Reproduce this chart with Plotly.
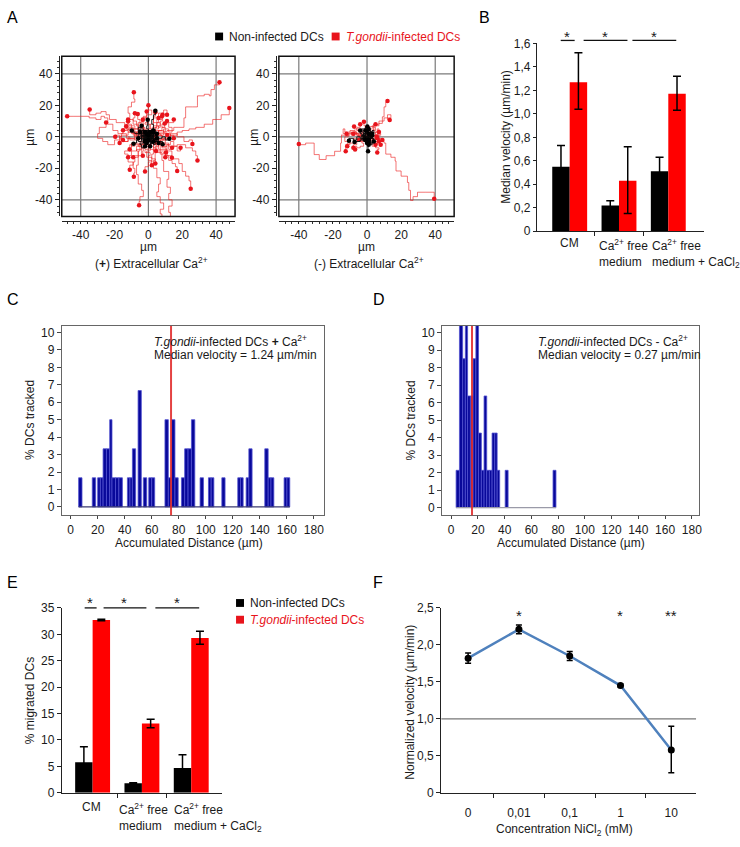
import plotly.graph_objects as go

W, H = 740, 847
FONT = "Liberation Sans, Arial, Helvetica, sans-serif"
TXT = "#1a1a1a"


def fx(p):
    return p / W


def fy(p):
    return 1 - p / H


# ---------------- DATA ----------------
# Panel A: cell tracks (µm), (+) extracellular Ca2+
A_left_red_tracks = [
    [(0, 0), (2, 1), (6, 3), (11, 4), (15, 6), (18, 6), (21, 7.5), (21, 12), (22, 19), (26, 19), (29, 20), (29, 24), (29, 26), (33, 27), (36, 26), (37, 30), (39, 33), (42, 34.6)],
    [(1, -1), (5, 1), (9, 2), (13, 1), (17, 3), (20, 4), (24, 5), (28, 6), (33, 8), (38, 11), (43, 14), (47.8, 18.3)],
    [(0, 1), (-3, 4), (-6, 8), (-9, 11), (-11, 15), (-12, 19), (-10, 22), (-8, 24), (-8.6, 28.3)],
    [(-1, 0), (-4, 3), (-8, 5), (-12, 4), (-15, 2), (-18, 4), (-21, 8), (-24, 12), (-26, 13), (-28, 11), (-31, 12), (-35, 13), (-40, 13), (-44, 13), (-48, 13)],
    [(0, 0), (-5, 2), (-9, 6), (-14, 9), (-19, 11), (-23, 14), (-25, 16), (-28, 15), (-31, 14), (-34.7, 17.3)],
    [(0, 0), (-4, -2), (-8, -1), (-12, -3), (-15, -1), (-17, 1), (-19.6, 0)],
    [(-2, 1), (-7, 3), (-12, 1), (-16, -2), (-20, -5), (-24, -3), (-27, -1), (-30, 2), (-29, 6), (-25, 9)],
    [(1, 0), (5, -2), (9, -1), (13, 2), (17, 0), (21, -3), (24, -2), (26, -4.6)],
    [(2, -2), (7, -4), (12, -6), (17, -5), (22, -7), (26, -9), (28, -12), (29, -15)],
    [(1, -2), (4, -5), (7, -9), (10, -12), (12, -15), (14, -17), (16, -19), (17, -21.7)],
    [(3, -3), (6, -8), (11, -12), (14, -14), (18, -17), (20, -22), (22, -25), (24, -28), (25, -33)],
    [(-1, -1), (-3, -5), (-5, -9), (-6, -13), (-8, -16), (-9, -20), (-8, -23), (-8.6, -25.4)],
    [(-1, -2), (-2, -7), (-4, -12), (-6, -18), (-7, -24), (-6, -30), (-4, -34), (-3, -38), (-5, -41), (-5.5, -43.5)],
    [(1, -3), (3, -9), (4, -15), (3, -20), (5, -26), (7, -30), (6, -35), (5, -38), (7, -42), (9, -46), (7, -49), (8, -53)],
    [(2, -4), (5, -10), (8, -15), (9, -22), (12, -27), (11, -32), (13, -36), (12, -40), (14, -44), (12, -48), (13, -53)],
    [(0, -1), (4, -4), (8, -6), (11, -9), (13.9, -13.3)],
    [(0, 0), (-3, 2), (-6, 1), (-9, 4), (-11, 5), (-13.1, 6.7)],
    [(-1, 0), (-4, -1), (-7, 2), (-10, 3), (-12, 5), (-15, 4.2)],
    [(0, 1), (-2, 4), (-5, 5), (-8, 7), (-10, 8), (-12, 9.8)],
    [(0, 2), (-2, 5), (-3, 8), (-5, 11), (-6.3, 14.4)],
    [(1, 1), (0, 4), (-2, 6), (-3, 9), (-3.3, 10.8)],
    [(1, 2), (2, 5), (1, 8), (3, 11), (3, 13), (4.1, 15.6)],
    [(1, 1), (3, 3), (4, 6), (5, 9), (6, 11.9)],
    [(2, 2), (4, 5), (6, 7), (7, 10), (8.4, 14)],
    [(1, -1), (4, -3), (6, -5), (8, -7), (10.4, -10)],
    [(0, -2), (2, -5), (1, -8), (3, -11), (2, -14), (4.1, -16.9)],
    [(-1, -1), (-2, -4), (-1, -7), (-3, -9), (-3.3, -12.1)],
    [(1, -1), (2, -3), (4, -5), (3, -7), (4.5, -9)],
    [(1, 1), (4, 2), (6, 4), (8, 6), (9.6, 8.5)],
    [(2, 0), (5, 1), (8, -1), (10, 2), (11.2, 1.2)],
    [(-2, -3), (-5, -5), (-8, -4), (-10, -7), (-12, -9), (-14, -11), (-12, -13)],
    [(3, 4), (6, 2), (9, 5), (12, 3), (14, 6), (12, 9), (15, 11)],
    [(-3, 5), (-6, 9), (-4, 12), (-1, 14), (2, 17), (0, 20)],
    [(4, -4), (7, -2), (10, -5), (13, -3), (15, -6), (17, -9), (19, -7)],
    [(-4, -6), (-7, -9), (-10, -12), (-12, -16), (-9, -18), (-11, -21)],
    [(-5, 2), (-8, -2), (-11, -1), (-13, 2), (-16, 0), (-17, -4)],
    [(2, 6), (5, 9), (3, 12), (6, 15), (9, 17), (11, 14)],
    [(-2, -5), (1, -9), (-1, -13), (2, -16), (0, -19), (-2, -22)],
    [(0, 0), (2, 3), (-1, 5), (1, 8), (-2, 9), (0, 12), (-3, 13), (-1, 16)],
    [(0, 0), (-3, -1), (-2, -4), (-5, -5), (-4, -8), (-7, -9), (-6, -12), (-9, -13)],
    [(0, 0), (3, -1), (4, -4), (7, -3), (8, -6), (11, -5), (12, -8), (14, -7)],
    [(0, 0), (-2, 3), (-5, 2), (-6, 5), (-9, 4), (-10, 7), (-13, 8), (-12, 11)],
    [(0, 0), (3, 2), (5, 1), (6, 4), (9, 3), (10, 6), (8, 8), (11, 10)],
    [(0, 0), (1, -3), (-1, -5), (0, -8), (-2, -10), (1, -12), (0, -15), (2, -18)],
    [(0, 0), (-3, 0), (-4, 3), (-7, 2), (-8, -1), (-11, 0), (-12, -3), (-15, -2)],
    [(0, 0), (2, -3), (5, -3), (6, -6), (4, -9), (7, -11), (9, -10), (10, -13)],
    [(0, 0), (-1, 3), (2, 4), (3, 7), (6, 6), (7, 9), (5, 11), (8, 13)],
    [(0, 0), (-2, -2), (-1, -5), (-4, -6), (-6, -4), (-8, -6), (-10, -5), (-11, -8)],
    [(0, 0), (3, 0), (4, 2), (7, 1), (8, -2), (11, -1), (13, 1), (15, -1)],
    [(0, 0), (-1, 2), (-4, 3), (-3, 6), (-6, 7), (-7, 10), (-9, 12), (-8, 15)],
]
A_left_black_tracks = [
    [(0, 0), (1, 2), (2, 5), (3, 8), (2, 11), (3, 14), (4.1, 16.5)],
    [(0, 0), (-2, 1), (-4, 0), (-6, 2), (-8, 3), (-9.8, 4)],
    [(0, 0), (-2, -1), (-4, -3), (-6, -2), (-7, -4), (-8.8, -4.4)],
    [(0, 0), (3, 1), (5, -1), (8, 0), (10, -2), (12.4, -1.2)],
    [(0, 0), (2, -2), (4, -1), (6, -3), (8.4, -4.8)],
    [(0, 0), (-1, 2), (1, 3), (0, 5), (-1, 7), (-0.4, 10.8)],
    [(0, 0), (1, -1), (-1, -2), (0, -3), (2, -4), (1, -6)],
    [(0, 0), (-1, 1), (-2, 3), (0, 4), (1, 2), (3, 3)],
    [(0, 0), (2, 1), (3, -1), (1, -2), (-1, -1), (-2, -3)],
    [(0, 0), (-2, 2), (-3, 0), (-4, -2), (-2, -3), (0, -2)],
    [(0, 0), (1, 1), (3, 2), (4, 0), (2, -1), (3, -3)],
    [(0, 0), (-1, -1), (-3, 1), (-4, 3), (-2, 4), (-1, 2)],
    [(0, 0), (2, 2), (1, 4), (-1, 3), (-3, 2), (-5, 3)],
    [(0, 0), (-1, -2), (1, -4), (3, -5), (4, -3), (6, -4)],
    [(0, 0), (1, 0), (2, 2), (4, 1), (5, 3), (3, 4)],
    [(0, 0), (-2, -2), (-3, -4), (-5, -5), (-4, -7), (-2, -6)],
    [(0, 0), (-1, 3), (-3, 5), (-5, 4), (-6, 6), (-4, 7)],
    [(0, 0), (2, -1), (3, -3), (5, -2), (6, 0), (5, 2)],
    [(0, 0), (1, 1), (0, 2), (-1, 1), (-2, 2), (-1, 3), (0, 4), (1, 3)],
    [(0, 0), (-1, -1), (0, -2), (1, -1), (2, -2), (1, -3), (0, -4), (-1, -3)],
    [(0, 0), (1, -1), (2, 0), (3, -1), (2, 1), (3, 2), (1, 2), (0, 1)],
    [(0, 0), (-1, 1), (-2, 0), (-3, 1), (-2, -1), (-3, -2), (-1, -2), (-2, -3)],
    [(0, 0), (2, 1), (1, 2), (3, 3), (2, 4), (0, 3), (-1, 4), (-2, 3)],
    [(0, 0), (-2, -1), (-1, -3), (1, -2), (2, -4), (3, -2), (4, -3), (5, -1)],
    [(0, 0), (1, 2), (3, 1), (2, -1), (4, -2), (3, -4), (1, -3), (-1, -4)],
    [(0, 0), (-2, 1), (-1, 3), (-3, 4), (-4, 2), (-5, 1), (-4, -1), (-6, -1)],
]
# (-) extracellular Ca2+
A_right_red_tracks = [
    [(0, 0), (-3, 1), (-6, 3), (-9, 2), (-12, 1), (-14.5, 1.2), (-15, -4), (-15.5, -9.2), (-19, -12), (-24, -14.4), (-28, -11.3), (-31, -4), (-36, -5), (-40, -4.6)],
    [(0, 0), (3, -1), (7, -3), (10, -4), (11, -6), (11, -11), (14, -13), (16.5, -15.4), (17, -21.7), (20, -25), (23.7, -29), (24.5, -34), (25.5, -40.4), (27, -38), (29.6, -35.2), (34.5, -35.2), (39.4, -39.4)],
    [(0, 1), (1, 4), (1.2, 6.5), (4, 7), (7, 8.5), (9, 12.7), (10, 16), (10, 19), (11, 22), (12, 22.7)],
    [(1, 1), (3, 4), (4, 8), (7, 10), (10, 12), (14, 14), (12, 11), (13.3, 10.6)],
    [(-1, 0), (-4, 2), (-7, 4), (-10, 3), (-13, 5), (-14, 2), (-11, 0), (-13, -3), (-10, -5), (-12.5, -9.2)],
    [(0, -1), (-3, -2), (-6, -1), (-8, -4), (-11.6, -6)],
    [(0, 1), (-3, 3), (-5, 5), (-7.6, 6.5)],
    [(1, 1), (0, 4), (-1, 7), (-1.8, 9.6)],
    [(1, 0), (3, -2), (5, -1), (7, -2.9)],
    [(1, -1), (4, -3), (6, -4), (8, -5)],
    [(0, 0), (2, 1), (4, 0), (5.7, 0.2)],
    [(0, 0), (-2, -1), (-3, -3), (-4.7, -1.9)],
    [(0, 0), (2, 2), (4, 3), (6, 5), (7, 3)],
    [(0, 0), (-2, 2), (-4, 1), (-6, 3), (-8, 2)],
    [(0, 0), (2, -2), (1, -4), (3, -6), (5, -5)],
    [(0, 0), (-1, -2), (-4, -3), (-6, -5), (-8, -7)],
    [(0, 0), (3, 1), (5, 3), (7, 1), (6, -1)],
    [(0, 0), (2, 2), (0, 4), (-2, 3), (-3, 5), (-5, 4), (-6, 6), (-4, 8)],
    [(0, 0), (-2, -1), (-1, -3), (-3, -4), (-2, -6), (-4, -7), (-6, -6), (-7, -8)],
    [(0, 0), (2, -1), (3, 1), (5, 0), (6, 2), (8, 1), (7, -1), (9, -2)],
    [(0, 0), (-2, 1), (-4, 0), (-5, 2), (-7, 1), (-9, 3), (-10, 1), (-12, 2)],
    [(0, 0), (1, -2), (3, -3), (4, -5), (6, -4), (5, -7), (7, -8), (6, -10)],
    [(0, 0), (-1, 2), (1, 3), (2, 5), (4, 4), (5, 6), (3, 7), (5, 8)],
]
A_right_black_tracks = [
    [(0, 0), (1, -2), (0, -4), (1, -6), (0.6, -9.2)],
    [(0, 0), (-2, -1), (-4, 0), (-6, -2), (-8, -1), (-10.6, -2.5)],
    [(0, 0), (-2, -2), (-4, -3), (-7.3, -3.3)],
    [(0, 0), (1, 2), (-1, 4), (0.2, 6.5)],
    [(0, 0), (-1, 1), (-3, 2), (-4, 4)],
    [(0, 0), (2, 1), (3, -1), (1, -2)],
    [(0, 0), (-1, -1), (1, -2), (2, 0), (3, 2)],
    [(0, 0), (1, 1), (-1, 2), (-2, 0), (-1, -2)],
    [(0, 0), (2, 2), (3, 0), (2, -3), (0, -2)],
    [(0, 0), (-2, 1), (-3, -1), (-1, -3), (1, -4)],
    [(0, 0), (1, 3), (3, 4), (4, 2), (3, 1)],
    [(0, 0), (-2, 3), (-3, 5), (-1, 6), (1, 5)],
    [(0, 0), (3, -1), (4, -3), (3, -5), (1, -5)],
    [(0, 0), (1, 1), (0, 2), (-1, 1), (-2, 2), (-1, 3), (0, 4)],
    [(0, 0), (-1, -1), (0, -2), (1, -1), (2, -2), (1, -3), (0, -4)],
    [(0, 0), (1, -1), (2, 0), (3, -1), (2, 1), (3, 2), (1, 2)],
    [(0, 0), (-1, 1), (-2, 0), (-3, 1), (-2, -1), (-3, -2), (-1, -2)],
    [(0, 0), (2, 1), (1, 2), (3, 3), (2, 4), (0, 3), (-1, 4)],
    [(0, 0), (-2, -1), (-1, -3), (1, -2), (2, -4), (3, -2), (4, -3)],
]
A_grid = [-40, 0, 40]
A_ticks = [-40, -20, 0, 20, 40]
A_ticktext = ["-40", "-20", "0", "20", "40"]

# Panel B: median velocity (µm/min)
B_noninf = [0.55, 0.22, 0.51]
B_noninf_err = [0.18, 0.04, 0.12]
B_inf = [1.27, 0.43, 1.17]
B_inf_err_plus = [0.25, 0.29, 0.15]
B_inf_err_minus = [0.23, 0.28, 0.14]
B_yticks = [0, 0.2, 0.4, 0.6, 0.8, 1.0, 1.2, 1.4, 1.6]
B_yticktext = ["0", "0,2", "0,4", "0,6", "0,8", "1,0", "1,2", "1,4", "1,6"]

# Panel C: histogram, infected + Ca2+ (bin edges µm, % tracked)
C_left = [5.9, 16.0, 20.0, 22.0, 24.0, 26.5, 28.9, 30.6, 33.2, 35.7, 42.0, 43.9, 45.7, 49.9, 53.8, 57.8, 60.0,
          69.8, 72.3, 74.7, 77.2, 82.0, 84.4, 86.9, 89.4, 95.8, 102.0, 104.0, 111.9, 123.7, 125.7, 129.9, 131.9,
          143.7, 146.2, 148.3, 158.0, 160.1]
C_right = [8.4, 18.5, 22.0, 24.0, 26.5, 28.9, 30.6, 33.2, 35.7, 38.3, 43.9, 45.7, 48.1, 52.3, 56.3, 60.0, 62.2,
           72.3, 74.7, 77.2, 79.6, 84.4, 86.9, 89.4, 91.9, 98.3, 104.0, 106.0, 114.3, 125.7, 127.7, 131.9, 134.3,
           146.2, 148.3, 150.4, 160.1, 162.2]
C_pct = [1.67, 1.67, 1.67, 1.67, 3.33, 3.33, 5.0, 1.67, 1.67, 1.67, 1.67, 1.67, 3.33, 6.67, 1.67, 1.67, 1.67,
         5.0, 1.67, 5.0, 1.67, 1.67, 3.33, 3.33, 5.0, 1.67, 1.67, 1.67, 1.67, 1.67, 1.67, 1.67, 3.33,
         3.33, 1.67, 1.67, 1.67, 1.67]
C_median_dist = 74.3

# Panel D: histogram, infected - Ca2+
D_left = [3.7, 6.2, 8.6, 10.6, 12.3, 14.4, 16.4, 18.5, 20.5, 22.6, 24.6, 26.6, 28.6, 30.6, 32.6, 34.4, 40.4, 76.2]
D_right = [6.2, 8.6, 10.6, 12.3, 14.4, 16.4, 18.5, 20.5, 22.6, 24.6, 26.6, 28.6, 30.6, 32.6, 34.4, 36.3, 42.6, 78.4]
D_pct = [2.13, 10.64, 8.51, 10.64, 6.38, 6.38, 8.51, 10.64, 4.26, 2.13, 6.38, 2.13, 2.13, 4.26, 4.26, 2.13, 2.13, 2.13]
D_median_dist = 15.6
HIST_xticks = [0, 20, 40, 60, 80, 100, 120, 140, 160, 180]
HIST_yticks = [0, 1, 2, 3, 4, 5, 6, 7, 8, 9, 10]

# Panel E: % migrated DCs
E_noninf = [5.8, 1.8, 4.7]
E_noninf_err = [2.9, 0.1, 2.5]
E_inf = [32.7, 13.1, 29.3]
E_inf_err_plus = [0.15, 0.8, 1.3]
E_inf_err_minus = [0.15, 0.8, 1.2]
E_yticks = [0, 5, 10, 15, 20, 25, 30, 35]

# Panel F: normalized velocity vs NiCl2
F_labels = ["0", "0,01", "0,1", "1", "10"]
F_vals = [1.82, 2.21, 1.85, 1.45, 0.58]
F_err_plus = [0.07, 0.06, 0.06, 0.02, 0.32]
F_err_minus = [0.07, 0.06, 0.06, 0.02, 0.31]
F_ref = 1.0
F_yticks = [0, 0.5, 1.0, 1.5, 2.0, 2.5]
F_yticktext = ["0", "0,5", "1,0", "1,5", "2,0", "2,5"]

# ---------------- RANGES ----------------
AL_XR, AL_YR = [-51.2, 51.2], [-50.6, 51.2]
AR_XR, AR_YR = [-51.7, 51.1], [-50.6, 51.2]
B_XR, B_YR = [-0.667, 2.727], [0, 1.6]
C_XR, C_YR = [-6.6, 187.3], [-0.49, 10.39]
D_XR, D_YR = [-6.7, 185.5], [-0.45, 10.4]
E_XR, E_YR = [-0.626, 2.626], [0, 35]
F_XR, F_YR = [-0.53, 4.49], [0, 2.5]
BAR_W = 0.354

fig = go.Figure()


def flatten(tracks):
    xs, ys = [], []
    for t in tracks:
        for (a, b) in t:
            xs.append(a)
            ys.append(b)
        xs.append(None)
        ys.append(None)
    return xs, ys


def add_tracks(tracks, color, lcolor, lw, xa, ya):
    xs, ys = flatten(tracks)
    fig.add_trace(go.Scatter(x=xs, y=ys, mode="lines", line=dict(color=lcolor, width=lw, shape="hv"),
                             xaxis=xa, yaxis=ya, hoverinfo="skip"))
    fig.add_trace(go.Scatter(x=[t[-1][0] for t in tracks], y=[t[-1][1] for t in tracks], mode="markers",
                             marker=dict(color=color, size=4.5), xaxis=xa, yaxis=ya))


add_tracks(A_left_red_tracks, "#e8141c", "rgba(235,25,25,0.75)", 0.8, "x", "y")
add_tracks(A_left_black_tracks, "#000000", "rgba(10,10,10,0.9)", 1.0, "x", "y")
add_tracks(A_right_red_tracks, "#e8141c", "rgba(235,25,25,0.75)", 0.8, "x2", "y2")
add_tracks(A_right_black_tracks, "#000000", "rgba(10,10,10,0.9)", 1.0, "x2", "y2")

# Panel B bars
idx3 = list(range(3))
fig.add_trace(go.Bar(x=[i - BAR_W / 2 for i in idx3], y=B_noninf, width=BAR_W, marker=dict(color="black", line=dict(width=0)),
                     error_y=dict(type="data", array=B_noninf_err, color="black", thickness=1.5, width=4),
                     xaxis="x3", yaxis="y3"))
fig.add_trace(go.Bar(x=[i + BAR_W / 2 for i in idx3], y=B_inf, width=BAR_W, marker=dict(color="#ff0000", line=dict(width=0)),
                     error_y=dict(type="data", array=B_inf_err_plus, arrayminus=B_inf_err_minus, color="black",
                                  thickness=1.5, width=4),
                     xaxis="x3", yaxis="y3"))

# Panels C, D histograms
for L, R, P, xa, ya in [(C_left, C_right, C_pct, "x4", "y4"), (D_left, D_right, D_pct, "x5", "y5")]:
    fig.add_trace(go.Bar(x=[(l + r) / 2 for l, r in zip(L, R)], y=P, width=[r - l for l, r in zip(L, R)],
                         marker=dict(color="#08089a", line=dict(color="#5050d0", width=0.8)),
                         xaxis=xa, yaxis=ya))

# Panel E bars
fig.add_trace(go.Bar(x=[i - BAR_W / 2 for i in idx3], y=E_noninf, width=BAR_W, marker=dict(color="black", line=dict(width=0)),
                     error_y=dict(type="data", array=E_noninf_err, color="black", thickness=1.5, width=4),
                     xaxis="x6", yaxis="y6"))
fig.add_trace(go.Bar(x=[i + BAR_W / 2 for i in idx3], y=E_inf, width=BAR_W, marker=dict(color="#ff0000", line=dict(width=0)),
                     error_y=dict(type="data", array=E_inf_err_plus, arrayminus=E_inf_err_minus, color="black",
                                  thickness=1.5, width=4),
                     xaxis="x6", yaxis="y6"))

# Panel F line
fig.add_trace(go.Scatter(x=list(range(len(F_vals))), y=F_vals, mode="lines+markers",
                         line=dict(color="#4f81bd", width=2.5), marker=dict(color="black", size=7),
                         error_y=dict(type="data", array=F_err_plus, arrayminus=F_err_minus, color="black",
                                      thickness=1.5, width=3),
                         xaxis="x7", yaxis="y7"))

# ---------------- AXES ----------------
tickfont = dict(size=12, family=FONT, color=TXT)


def ax(**kw):
    d = dict(showgrid=False, zeroline=False, showline=True, linecolor="#222", linewidth=1,
             ticks="outside", tickcolor="#222", tickfont=tickfont, fixedrange=True)
    d.update(kw)
    return d


a_minor = dict(ticks="outside", ticklen=2, tickcolor="#333", tickmode="array",
               tickvals=[v for v in range(-48, 49, 4)])

layout_axes = dict(
    xaxis=ax(domain=[fx(62), fx(236)], range=AL_XR, anchor="free", position=fy(218), tickvals=A_ticks,
             ticktext=A_ticktext, ticklen=2, minor=a_minor),
    yaxis=ax(domain=[fy(213), fy(50)], range=AL_YR, anchor="free", position=fx(59), tickvals=A_ticks,
             ticktext=A_ticktext, ticklen=4, minor=a_minor),
    xaxis2=ax(domain=[fx(280), fx(456)], range=AR_XR, anchor="free", position=fy(218), tickvals=A_ticks,
              ticktext=A_ticktext, ticklen=2, minor=a_minor),
    yaxis2=ax(domain=[fy(213), fy(50)], range=AR_YR, anchor="free", position=fx(277), tickvals=A_ticks,
              ticktext=A_ticktext, ticklen=4, minor=a_minor),
    xaxis3=ax(domain=[fx(539), fx(707)], range=B_XR, anchor="y3", tickvals=[0, 1, 2], showticklabels=False,
              ticklen=0, minor=dict(ticks="outside", ticklen=4, tickcolor="#222", tickmode="array", tickvals=[0.5, 1.5])),
    yaxis3=ax(domain=[fy(228), fy(37)], range=B_YR, anchor="x3", tickvals=B_yticks, ticktext=B_yticktext, ticklen=3),
    xaxis4=ax(domain=[fx(62), fx(325)], range=C_XR, anchor="y4", mirror=True, linecolor="#666", tickcolor="#444",
              tickvals=HIST_xticks, ticklen=3),
    yaxis4=ax(domain=[fy(517), fy(324)], range=C_YR, anchor="x4", mirror=True, linecolor="#666", tickcolor="#444",
              tickvals=HIST_yticks, ticklen=4),
    xaxis5=ax(domain=[fx(444), fx(702)], range=D_XR, anchor="y5", mirror=True, linecolor="#666", tickcolor="#444",
              tickvals=HIST_xticks, ticklen=3),
    yaxis5=ax(domain=[fy(517), fy(324)], range=D_YR, anchor="x5", mirror=True, linecolor="#666", tickcolor="#444",
              tickvals=HIST_yticks, ticklen=4),
    xaxis6=ax(domain=[fx(62), fx(223)], range=E_XR, anchor="y6", tickvals=[0, 1, 2], showticklabels=False,
              ticklen=0, minor=dict(ticks="outside", ticklen=4, tickcolor="#222", tickmode="array", tickvals=[0.5, 1.5])),
    yaxis6=ax(domain=[fy(799), fy(611)], range=E_YR, anchor="x6", tickvals=E_yticks, ticklen=4),
    xaxis7=ax(domain=[fx(443), fx(699)], range=F_XR, anchor="y7", tickvals=list(range(len(F_labels))),
              ticktext=F_labels, ticklen=9, tickcolor="rgba(0,0,0,0)",
              minor=dict(ticks="outside", ticklen=4, tickcolor="#222", tickmode="array", tickvals=[0.5, 1.5, 2.5, 3.5])),
    yaxis7=ax(domain=[fy(799), fy(611)], range=F_YR, anchor="x7", tickvals=F_yticks, ticktext=F_yticktext, ticklen=4),
)

# ---------------- SHAPES ----------------
shapes = []
for xa, ya, xr, yr in [("x", "y", AL_XR, AL_YR), ("x2", "y2", AR_XR, AR_YR)]:
    for g in A_grid:
        shapes.append(dict(type="line", xref=xa, yref=ya, x0=g, x1=g, y0=yr[0], y1=yr[1],
                           line=dict(color="#7a7a7a", width=1.2), layer="below"))
        shapes.append(dict(type="line", xref=xa, yref=ya, x0=xr[0], x1=xr[1], y0=g, y1=g,
                           line=dict(color="#7a7a7a", width=1.2), layer="below"))
    shapes.append(dict(type="rect", xref=xa + " domain", yref=ya + " domain", x0=0, x1=1, y0=0, y1=1,
                       line=dict(color="#111", width=1.5)))

# histogram baselines + median lines
shapes.append(dict(type="line", xref="x4", yref="y4", x0=min(C_left), x1=max(C_right), y0=0, y1=0,
                   line=dict(color="#3a3a70", width=1.2)))
shapes.append(dict(type="line", xref="x5", yref="y5", x0=min(D_left), x1=max(D_right), y0=0, y1=0,
                   line=dict(color="#9a9aa8", width=1.2)))
shapes.append(dict(type="line", xref="x4", yref="y4", x0=C_median_dist, x1=C_median_dist, y0=C_YR[0], y1=C_YR[1],
                   line=dict(color="rgba(225,45,45,0.9)", width=2)))
shapes.append(dict(type="line", xref="x5", yref="y5", x0=D_median_dist, x1=D_median_dist, y0=D_YR[0], y1=D_YR[1],
                   line=dict(color="rgba(225,45,45,0.9)", width=2)))
# F reference line
shapes.append(dict(type="line", xref="x7", yref="y7", x0=F_XR[0], x1=F_XR[1], y0=F_ref, y1=F_ref,
                   line=dict(color="#777", width=1.2), layer="below"))

# significance bars (pixel positions)
for (x0, x1, yy) in [(563, 577, 34), (586, 630, 34), (635, 679, 34), (85, 97, 611), (104, 147, 611), (156, 200, 611)]:
    shapes.append(dict(type="line", xref="paper", yref="paper", x0=fx(x0), x1=fx(x1), y0=fy(yy), y1=fy(yy),
                       line=dict(color="#111", width=1.3)))

# legend squares
for (x0, y0, col) in [(216, 26, "#000"), (333, 26, "#e8141c"), (237, 602, "#000"), (237, 619, "#e8141c")]:
    shapes.append(dict(type="rect", xref="paper", yref="paper", x0=fx(x0), x1=fx(x0 + 8), y0=fy(y0 + 8), y1=fy(y0),
                       line=dict(width=0), fillcolor=col))

# ---------------- ANNOTATIONS ----------------
anns = []


def ann(text, x, y, size=12, color=TXT, angle=0, xanchor="center", yanchor="middle", align="center"):
    anns.append(dict(text=text, x=fx(x), y=fy(y), xref="paper", yref="paper", showarrow=False,
                     font=dict(size=size, family=FONT, color=color), textangle=angle,
                     xanchor=xanchor, yanchor=yanchor, align=align))


for lab, x, y in [("A", 13, 11), ("B", 486, 11), ("C", 13, 297), ("D", 381, 297), ("E", 13, 585), ("F", 380, 585)]:
    ann(lab, x, y, size=16, color="#000")

# Panel A texts
ann("Non-infected DCs", 228, 30, xanchor="left")
ann("<i>T.gondii</i>-infected DCs", 345, 30, color="#e8141c", xanchor="left")
ann("µm", 30, 132, angle=-90)
ann("µm", 255, 132, angle=-90)
ann("µm", 149, 244)
ann("µm", 368, 244)
ann("(<b>+</b>) Extracellular Ca<sup>2+</sup>", 152, 260)
ann("(-) Extracellular Ca<sup>2+</sup>", 370, 260)

# Panel B texts
ann("Median velocity (µm/min)", 508, 132, angle=-90)
ann("CM", 572, 240)
ann("Ca<sup>2+</sup> free<br>medium", 599, 232, xanchor="left", yanchor="top", align="left")
ann("Ca<sup>2+</sup> free<br>medium + CaCl<sub>2</sub>", 653, 232, xanchor="left", yanchor="top", align="left")
for x in [569, 607, 657]:
    ann("*", x, 30, size=15)

# Panel C / D texts
ann("% DCs tracked", 30, 420, angle=-90)
ann("Accumulated Distance (µm)", 190, 545)
ann("<i>T.gondii</i>-infected DCs <b>+</b> Ca<sup>2+</sup>", 153, 340, xanchor="left")
ann("Median velocity = 1.24 µm/min", 153, 354, xanchor="left")
ann("% DCs tracked", 413, 420, angle=-90)
ann("Accumulated Distance (µm)", 573, 545)
ann("<i>T.gondii</i>-infected DCs - Ca<sup>2+</sup>", 538, 340, xanchor="left")
ann("Median velocity = 0.27 µm/min", 538, 354, xanchor="left")

# Panel E texts
ann("% migrated DCs", 30, 705, angle=-90)
ann("Non-infected DCs", 249, 606, xanchor="left")
ann("<i>T.gondii</i>-infected DCs", 249, 623, color="#e8141c", xanchor="left")
ann("CM", 92, 813)
ann("Ca<sup>2+</sup> free<br>medium", 117, 805, xanchor="left", yanchor="top", align="left")
ann("Ca<sup>2+</sup> free<br>medium + CaCl<sub>2</sub>", 173, 805, xanchor="left", yanchor="top", align="left")
for x in [90, 125, 178]:
    ann("*", x, 606, size=15)

# Panel F texts
ann("Normalized velocity (µm/min)", 412, 707, angle=-90)
ann("Concentration NiCl<sub>2</sub> (mM)", 567, 837)
for x, s in [(521, "*"), (623, "*"), (674, "**")]:
    ann(s, x, 619, size=15)

fig.update_layout(
    width=W, height=H, autosize=False,
    margin=dict(l=0, r=0, t=0, b=0),
    paper_bgcolor="white", plot_bgcolor="white",
    showlegend=False, barmode="overlay",
    font=dict(family=FONT, size=12, color=TXT),
    shapes=shapes, annotations=anns,
    **layout_axes,
)

fig.write_html("out.html", config={"displayModeBar": False, "staticPlot": True},
               post_script="document.body.style.margin='0';document.body.style.padding='0';")
